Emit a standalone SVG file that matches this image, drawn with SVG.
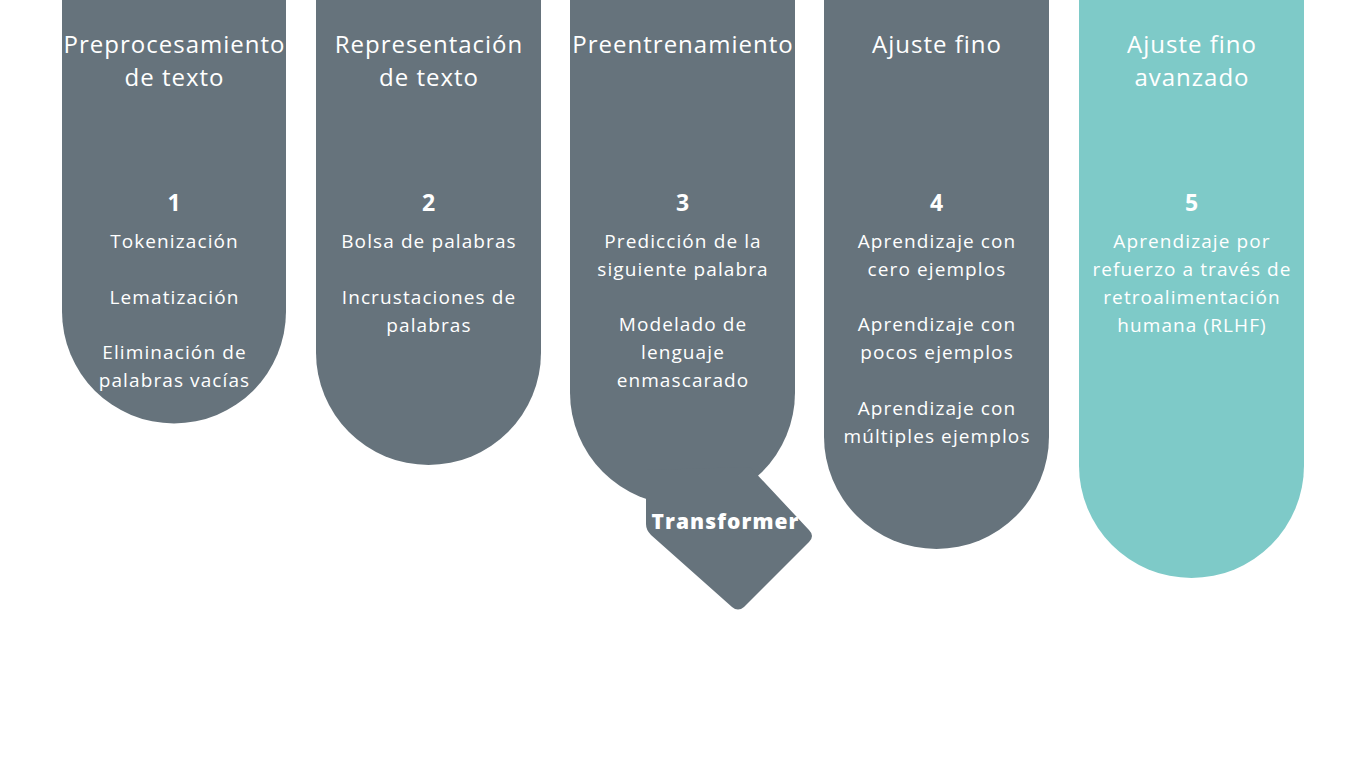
<svg xmlns="http://www.w3.org/2000/svg" width="1365" height="768" viewBox="0 0 1365 768">
<style>
.g{fill:#66737c}
.t{fill:#7ecac8}
text{font-family:"Open Sans","Noto Sans","DejaVu Sans",sans-serif;fill:#ffffff;text-anchor:middle}
.h{font-size:24px;letter-spacing:1px}
.n{font-size:23px;font-weight:700}
.i{font-size:19px;letter-spacing:1.1px}
.b{font-size:21px;font-weight:800;letter-spacing:1.1px}
</style>
<rect width="1365" height="768" fill="#ffffff"/>
<g id="node1">
<path class="g" d="M62 -1 H286 V311.5 A112 112 0 0 1 62 311.5 Z"/>
<text class="h" x="174.5" y="53">Preprocesamiento</text>
<text class="h" x="174.5" y="86">de texto</text>
<text class="n" x="174" y="211">1</text>
<text class="i" x="174.5" y="248">Tokenización</text>
<text class="i" x="174.5" y="304">Lematización</text>
<text class="i" x="174.5" y="359">Eliminación de</text>
<text class="i" x="174.5" y="387">palabras vacías</text>
</g>
<g id="node2">
<path class="g" d="M316 -1 H541 V352.5 A112.5 112.5 0 0 1 316 352.5 Z"/>
<text class="h" x="429" y="53">Representación</text>
<text class="h" x="429" y="86">de texto</text>
<text class="n" x="428.5" y="211">2</text>
<text class="i" x="429" y="248">Bolsa de palabras</text>
<text class="i" x="429" y="304">Incrustaciones de</text>
<text class="i" x="429" y="332">palabras</text>
</g>
<g id="node3">
<path class="g" d="M570 -1 H795 V392.5 A112.5 112.5 0 0 1 570 392.5 Z"/>
<path class="g" d="M646 470 L646 524 Q646 530 651 535 L732 607 Q738 612 744 607 L809 542 Q815 536 809 530 L750 467 Z"/>
<text class="h" x="683" y="53">Preentrenamiento</text>
<text class="n" x="682.5" y="211">3</text>
<text class="i" x="683" y="248">Predicción de la</text>
<text class="i" x="683" y="276">siguiente palabra</text>
<text class="i" x="683" y="331">Modelado de</text>
<text class="i" x="683" y="359">lenguaje</text>
<text class="i" x="683" y="387">enmascarado</text>
<text class="b" x="725.5" y="529">Transformer</text>
</g>
<g id="node4">
<path class="g" d="M824 -1 H1049 V436.5 A112.5 112.5 0 0 1 824 436.5 Z"/>
<text class="h" x="937" y="53">Ajuste fino</text>
<text class="n" x="936.5" y="211">4</text>
<text class="i" x="937" y="248">Aprendizaje con</text>
<text class="i" x="937" y="276">cero ejemplos</text>
<text class="i" x="937" y="331">Aprendizaje con</text>
<text class="i" x="937" y="359">pocos ejemplos</text>
<text class="i" x="937" y="415">Aprendizaje con</text>
<text class="i" x="937" y="443">múltiples ejemplos</text>
</g>
<g id="node5">
<path class="t" d="M1079 -1 H1304 V465.5 A112.5 112.5 0 0 1 1079 465.5 Z"/>
<text class="h" x="1192" y="53">Ajuste fino</text>
<text class="h" x="1192" y="86">avanzado</text>
<text class="n" x="1191.5" y="211">5</text>
<text class="i" x="1192" y="248">Aprendizaje por</text>
<text class="i" x="1192" y="276">refuerzo a través de</text>
<text class="i" x="1192" y="304">retroalimentación</text>
<text class="i" x="1192" y="332">humana (RLHF)</text>
</g>
<g id="connectors"></g>
</svg>
